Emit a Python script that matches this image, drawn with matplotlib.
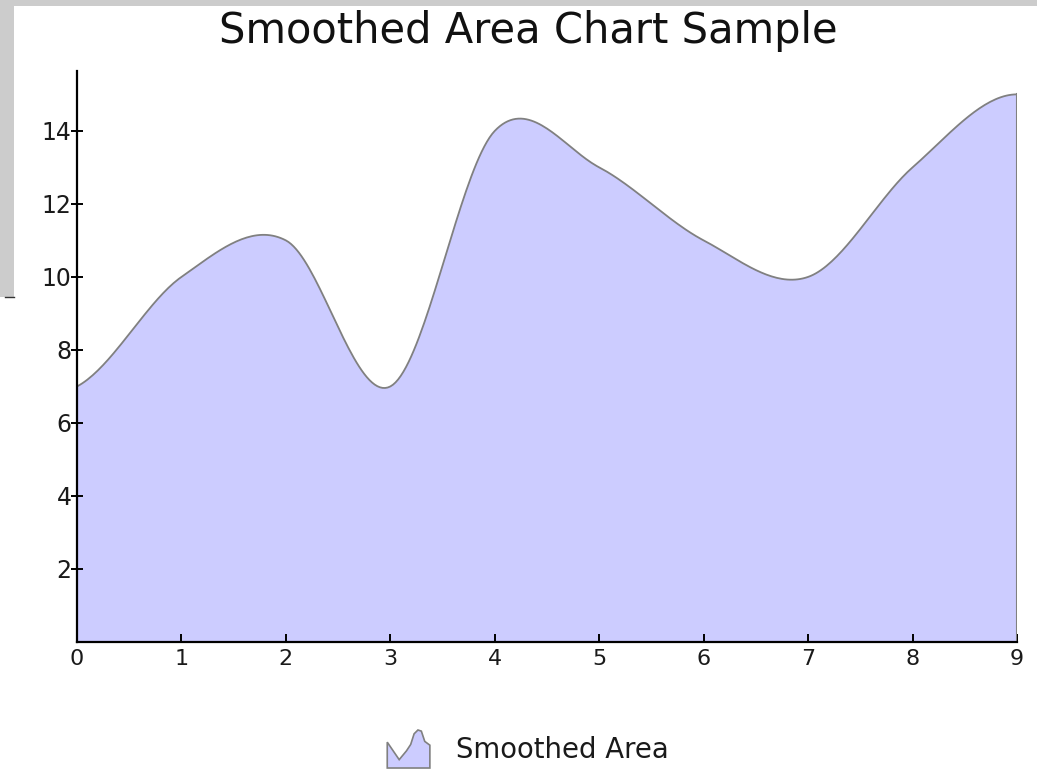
import numpy as np
import matplotlib
matplotlib.use("Agg")
import matplotlib.pyplot as plt
from matplotlib.patches import Polygon, Rectangle
from matplotlib.legend_handler import HandlerBase
from matplotlib.lines import Line2D

# ---- data ----
x_values = [0, 1, 2, 3, 4, 5, 6, 7, 8, 9]
y_values = [7, 10, 11, 7, 14, 13, 11, 10, 13, 15]
y_ticks = [2, 4, 6, 8, 10, 12, 14]
title_text = "Smoothed Area Chart Sample"
series_name = "Smoothed Area"

FILL = "#ccccff"
EDGE = "#808080"


def smooth_curve(xs, ys, n=40):
    xs = np.asarray(xs, float)
    ys = np.asarray(ys, float)
    m = np.zeros_like(ys)
    m[1:-1] = (ys[2:] - ys[:-2]) / (xs[2:] - xs[:-2])
    m[0] = (ys[1] - ys[0]) / (xs[1] - xs[0]) / 2
    m[-1] = 0.0
    out_x, out_y = [], []
    for i in range(len(xs) - 1):
        t = np.linspace(0, 1, n, endpoint=(i == len(xs) - 2))
        h = xs[i + 1] - xs[i]
        h00 = 2 * t**3 - 3 * t**2 + 1
        h10 = t**3 - 2 * t**2 + t
        h01 = -2 * t**3 + 3 * t**2
        h11 = t**3 - t**2
        out_x.append(xs[i] + t * h)
        out_y.append(h00 * ys[i] + h10 * h * m[i] + h01 * ys[i + 1] + h11 * h * m[i + 1])
    return np.concatenate(out_x), np.concatenate(out_y)


W, H = 1037, 772
fig = plt.figure(figsize=(W / 100, H / 100), dpi=100)
plt.rcParams['font.family'] = ['DejaVu Sans']

# grey frame remnants
fig.patches.append(Rectangle((0, 1 - 6 / H), 1, 6 / H, transform=fig.transFigure,
                             facecolor="#cccccc", edgecolor="none", zorder=0))
fig.patches.append(Rectangle((0, 1 - 297 / H), 14 / W, 297 / H, transform=fig.transFigure,
                             facecolor="#cccccc", edgecolor="none", zorder=0))
fig.lines.append(Line2D([5 / W, 14 / W], [1 - 297 / H, 1 - 297 / H], transform=fig.transFigure,
                        color="#333333", lw=1))

ax = fig.add_axes([77 / W, (H - 642) / H, (1017 - 77) / W, (642 - 71) / H])
ax.set_xlim(0, 9)
ax.set_ylim(0, 15.64)

sx, sy = smooth_curve(x_values, y_values)
ax.fill_between(sx, 0, sy, facecolor=FILL, edgecolor="none", zorder=1)
ax.plot(sx, sy, color=EDGE, lw=1.3, zorder=2)
ax.plot([x_values[-1], x_values[-1]], [0, y_values[-1]], color=EDGE, lw=1.5, zorder=2)

for s in ["top", "right"]:
    ax.spines[s].set_visible(False)
for s in ["left", "bottom"]:
    ax.spines[s].set_linewidth(1.6)
    ax.spines[s].set_color("black")
    ax.spines[s].set_zorder(3)

ax.set_xticks(x_values)
ax.set_yticks(y_ticks)
ax.tick_params(axis="y", direction="inout", length=8, width=1.4, labelsize=17, pad=0, colors="black")
ax.tick_params(axis="x", direction="in", length=6, width=1.4, labelsize=16, pad=5, colors="black")
for lab in ax.get_xticklabels() + ax.get_yticklabels():
    lab.set_color("#1a1a1a")

fig.text(528 / W, 1 - 31 / H, title_text, ha="center", va="center", fontsize=30, color="#111111")


class AreaHandler(HandlerBase):
    def create_artists(self, legend, orig_handle, xdescent, ydescent, width, height, fontsize, trans):
        shape = [(0.0, 0.0), (0.0, 0.68), (0.28, 0.22), (0.45, 0.45), (0.55, 0.62),
                 (0.63, 0.9), (0.72, 1.0), (0.8, 0.97), (0.88, 0.7), (1.0, 0.6), (1.0, 0.0)]
        pts = [(-xdescent + px * width, -ydescent + py * height) for px, py in shape]
        p = Polygon(pts, closed=True, facecolor=FILL, edgecolor=EDGE, lw=1.2, transform=trans)
        return [p]


handle = Rectangle((0, 0), 1, 1)
leg = fig.legend([handle], [series_name], handler_map={Rectangle: AreaHandler()},
                 loc="center", bbox_to_anchor=(528 / W, 1 - 749 / H), frameon=False,
                 fontsize=19.8, handlelength=1.55, handleheight=1.75, handletextpad=0.95,
                 borderpad=0.2)
for t in leg.get_texts():
    t.set_color("#1a1a1a")

fig.savefig("out.png", dpi=100)
